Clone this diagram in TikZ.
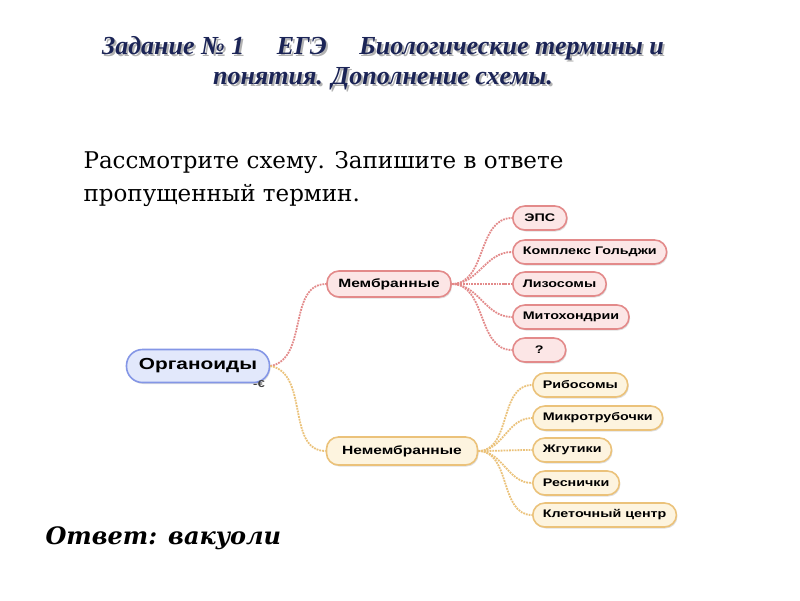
\documentclass[tikz,border=0pt]{standalone}
\usepackage{fontspec}
\setmainfont{Liberation Serif}
\newfontfamily\boxfont[FakeStretch=1.3]{Liberation Sans}
\newfontfamily\taskfont{DejaVu Serif}
\usetikzlibrary{shadows}
\definecolor{titleblue}{HTML}{1B2456}
\definecolor{orgfill}{HTML}{E2E8FB}
\definecolor{orgline}{HTML}{8496E6}
\definecolor{memfill}{HTML}{FCE6E6}
\definecolor{memline}{HTML}{E38A8A}
\definecolor{nonfill}{HTML}{FDF4DF}
\definecolor{nonline}{HTML}{EBC27A}
\newcommand{\boxsize}{11}
\newcommand{\titlesize}{\fontsize{26}{30}\selectfont\bfseries\itshape}
\newcommand{\shade}[1]{\makebox[0pt][l]{\hspace{2pt}\raisebox{-2pt}{\color{black!30}#1}}#1}

\begin{document}
\begin{tikzpicture}[
      x=1pt, y=-1pt, %pixels of the slide
      box/.style={rounded corners=12pt, line width=1.6pt, inner xsep=10pt,
        minimum height=24pt, font=\boxfont\bfseries\fontsize{\boxsize}{12}\selectfont,
        drop shadow={shadow xshift=1pt, shadow yshift=-1.5pt, opacity=0.25}},
      org/.style={box, draw=orgline, fill=orgfill, minimum height=33pt, rounded corners=16pt},
      mem/.style={box, draw=memline, fill=memfill},
      non/.style={box, draw=nonline, fill=nonfill},
      memlink/.style={draw=memline, line width=1.8pt, densely dotted},
      nonlink/.style={draw=nonline, line width=1.8pt, densely dotted},
      title/.style={color=titleblue, font=\titlesize},
      task/.style={anchor=west, font=\taskfont\fontsize{23}{27}\selectfont}
    ]
    \useasboundingbox[fill=white] (0,0) rectangle (800,600);
    %Title
    \node[title] (ttlA) at (383,49) {\shade{Задание № 1\quad\ ЕГЭ\quad\ Биологические термины и}};
    \node[title] (ttlB) at (383,80) {\shade{понятия. Дополнение схемы.}};
    %The task
    \node[task] (taskA) at (80,163) {Рассмотрите схему. Запишите в ответе};
    \node[task] (taskB) at (80,195) {пропущенный термин.};
    % Draw the root and the two groups
    \node[org, minimum width=143pt, font=\boxfont\bfseries\fontsize{16}{18}\selectfont] (organ) at (198,366) {Органоиды};
    \node[font=\boxfont\bfseries\fontsize{10}{10}\selectfont, inner sep=0pt, text=black!75] (organmark) at (259,384) {-€};
    \node[mem, minimum width=124pt, minimum height=26pt, font=\boxfont\bfseries\fontsize{12}{14}\selectfont] (memb) at (389,284) {Мембранные};
    \node[non, minimum width=151pt, minimum height=28pt, font=\boxfont\bfseries\fontsize{12}{14}\selectfont] (nonmemb) at (402,451) {Немембранные};
    % Draw the membrane organelles
    \node[mem, anchor=west, minimum width=54pt] (eps) at (512,218) {ЭПС};
    \node[mem, anchor=west] (golgi) at (512,252) {Комплекс Гольджи};
    \node[mem, anchor=west] (lyso) at (512,284) {Лизосомы};
    \node[mem, anchor=west] (mito) at (512,317) {Митохондрии};
    \node[mem, anchor=west, minimum width=53pt] (miss) at (512,350) {?};
    % Draw the non-membrane organelles
    \node[non, anchor=west] (ribo) at (532,385) {Рибосомы};
    \node[non, anchor=west] (micro) at (532,418) {Микротрубочки};
    \node[non, anchor=west] (flag) at (532,450) {Жгутики};
    \node[non, anchor=west] (cilia) at (532,483) {Реснички};
    \node[non, anchor=west] (centr) at (532,515) {Клеточный центр};
    % Connectors
    \draw[memlink] (organ.east) to[out=10, in=180] (memb.west);
    \draw[nonlink] (organ.east) to[out=-10, in=180] (nonmemb.west);
    \draw[memlink] (memb.east) to[out=0, in=180] (eps.west);
    \draw[memlink] (memb.east) to[out=0, in=180] (golgi.west);
    \draw[memlink] (memb.east) to[out=0, in=180] (lyso.west);
    \draw[memlink] (memb.east) to[out=0, in=180] (mito.west);
    \draw[memlink] (memb.east) to[out=0, in=180] (miss.west);
    \draw[nonlink] (nonmemb.east) to[out=0, in=180] (ribo.west);
    \draw[nonlink] (nonmemb.east) to[out=0, in=180] (micro.west);
    \draw[nonlink] (nonmemb.east) to[out=0, in=180] (flag.west);
    \draw[nonlink] (nonmemb.east) to[out=0, in=180] (cilia.west);
    \draw[nonlink] (nonmemb.east) to[out=0, in=180] (centr.west);
    %Answer
    \node[anchor=west, font=\taskfont\bfseries\itshape\fontsize{24}{28}\selectfont] (answer) at (42,538) {Ответ: вакуоли};
    \end{tikzpicture}
\end{document}
